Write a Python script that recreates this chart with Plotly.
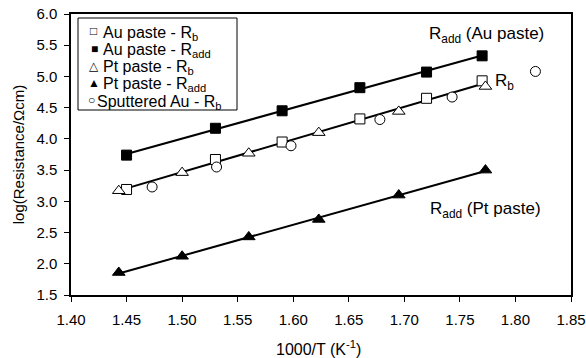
import numpy as np
import plotly.graph_objects as go

# ---- data ----
au_rb_x = [1.450, 1.530, 1.590, 1.660, 1.720, 1.770]
au_rb_y = [3.19, 3.67, 3.95, 4.32, 4.65, 4.93]

au_radd_x = [1.450, 1.530, 1.590, 1.660, 1.720, 1.770]
au_radd_y = [3.74, 4.17, 4.45, 4.82, 5.07, 5.33]

pt_rb_x = [1.443, 1.500, 1.560, 1.623, 1.695, 1.773]
pt_rb_y = [3.17, 3.46, 3.77, 4.10, 4.44, 4.84]

pt_radd_x = [1.443, 1.500, 1.560, 1.623, 1.695, 1.773]
pt_radd_y = [1.86, 2.12, 2.43, 2.71, 3.10, 3.50]

sp_rb_x = [1.473, 1.531, 1.598, 1.678, 1.743, 1.818]
sp_rb_y = [3.23, 3.55, 3.89, 4.31, 4.67, 5.08]

x_ticks = [1.40, 1.45, 1.50, 1.55, 1.60, 1.65, 1.70, 1.75, 1.80, 1.85]
y_ticks = [1.5, 2.0, 2.5, 3.0, 3.5, 4.0, 4.5, 5.0, 5.5, 6.0]

legend_labels = ["Au paste - R<sub>b</sub>", "Au paste - R<sub>add</sub>",
                 "Pt paste - R<sub>b</sub>", "Pt paste - R<sub>add</sub>",
                 "Sputtered Au - R<sub>b</sub>"]
legend_glyphs = ["\u25A1", "\u25A0", "\u25B3", "\u25B2", "\u25CB"]

x_title = "1000/T (K<sup>-1</sup>)"
y_title = "log(Resistance/\u03A9cm)"

FONT = "Liberation Sans, Arial, DejaVu Sans, sans-serif"

# ---- layout geometry (pixels) ----
W, H = 586, 358
L, R, T, B = 71, 15, 14, 63
PW, PH = W - L - R, H - T - B


def px(x):
    return (x - L) / PW


def py(y):
    return (H - B - y) / PH


def fit_line(xs, ys):
    xs = np.asarray(xs, float)
    ys = np.asarray(ys, float)
    k, b = np.polyfit(xs, ys, 1)
    xx = np.array([xs.min(), xs.max()])
    return xx, k * xx + b


fig = go.Figure()

line_style = dict(color="black", width=2)
# trend lines
for xs, ys in [(au_radd_x, au_radd_y),
               (au_rb_x + pt_rb_x, au_rb_y + pt_rb_y),
               (pt_radd_x, pt_radd_y)]:
    lx, ly = fit_line(xs, ys)
    fig.add_trace(go.Scatter(x=lx, y=ly, mode="lines", line=line_style,
                             showlegend=False, hoverinfo="skip"))

mk_line = dict(color="black", width=1)
fig.add_trace(go.Scatter(x=au_rb_x, y=au_rb_y, mode="markers", name="Au paste - Rb",
                         marker=dict(symbol="square", size=10, color="white", line=mk_line)))
fig.add_trace(go.Scatter(x=au_radd_x, y=au_radd_y, mode="markers", name="Au paste - Radd",
                         marker=dict(symbol="square", size=10, color="black", line=mk_line)))
fig.add_trace(go.Scatter(x=pt_rb_x, y=pt_rb_y, mode="markers", name="Pt paste - Rb",
                         marker=dict(symbol="triangle-up", size=11, color="white", line=mk_line)))
fig.add_trace(go.Scatter(x=pt_radd_x, y=pt_radd_y, mode="markers", name="Pt paste - Radd",
                         marker=dict(symbol="triangle-up", size=11, color="black", line=mk_line)))
fig.add_trace(go.Scatter(x=sp_rb_x, y=sp_rb_y, mode="markers", name="Sputtered Au - Rb",
                         marker=dict(symbol="circle", size=10, color="white", line=mk_line)))

annotations = []
# custom legend: glyph + label
row_y = [31, 48.5, 65.5, 82.5, 100]
glyph_x = [93.5, 94, 93.5, 94, 91]
text_x = [101, 101, 101, 101, 95]
for g, lab, yy, gx, tx in zip(legend_glyphs, legend_labels, row_y, glyph_x, text_x):
    annotations.append(dict(xref="paper", yref="paper", x=px(gx), y=py(yy + 0.5),
                            xanchor="center", yanchor="middle", showarrow=False,
                            text=g, font=dict(family=FONT, size=12, color="black")))
    annotations.append(dict(xref="paper", yref="paper", x=px(tx), y=py(yy + 2),
                            xanchor="left", yanchor="middle", showarrow=False,
                            text=lab, font=dict(family=FONT, size=16, color="black")))

ann_font = dict(family=FONT, size=17, color="black")
annotations += [
    dict(xref="paper", yref="paper", x=px(486), y=py(35), text="R<sub>add</sub> (Au paste)",
         showarrow=False, xanchor="center", yanchor="middle", font=ann_font),
    dict(xref="paper", yref="paper", x=px(504), y=py(82), text="R<sub>b</sub>",
         showarrow=False, xanchor="center", yanchor="middle", font=ann_font),
    dict(xref="paper", yref="paper", x=px(485), y=py(210), text="R<sub>add</sub> (Pt paste)",
         showarrow=False, xanchor="center", yanchor="middle", font=ann_font),
    # x-axis title
    dict(xref="paper", yref="paper", x=px(318), y=py(348), text=x_title,
         showarrow=False, xanchor="center", yanchor="middle",
         font=dict(family=FONT, size=16, color="black")),
]

shapes = [dict(type="rect", xref="paper", yref="paper",
               x0=px(78), x1=px(237), y0=py(110), y1=py(18),
               line=dict(color="black", width=1), fillcolor="white", layer="below")]

axis_common = dict(showline=True, linecolor="black", linewidth=1.5, mirror=True,
                   ticks="outside", ticklen=5, tickcolor="black", tickwidth=1,
                   showgrid=False, zeroline=False, automargin=False,
                   tickfont=dict(family=FONT, size=15, color="black"))

fig.update_layout(
    width=W, height=H,
    margin=dict(l=L, r=R, t=T, b=B, autoexpand=False),
    paper_bgcolor="white", plot_bgcolor="white",
    showlegend=False,
    font=dict(family=FONT, size=15, color="black"),
    xaxis=dict(range=[1.40, 1.85], tickvals=x_ticks, tickformat=".2f",
               ticklabelstandoff=5,
               **axis_common),
    yaxis=dict(range=[1.5, 6.0], tickvals=y_ticks, tickformat=".1f",
               ticklabelstandoff=4,
               title=dict(text=y_title, standoff=8,
                          font=dict(family=FONT, size=15)),
               **axis_common),
    annotations=annotations,
    shapes=shapes,
)

fig.write_html("out.html")
